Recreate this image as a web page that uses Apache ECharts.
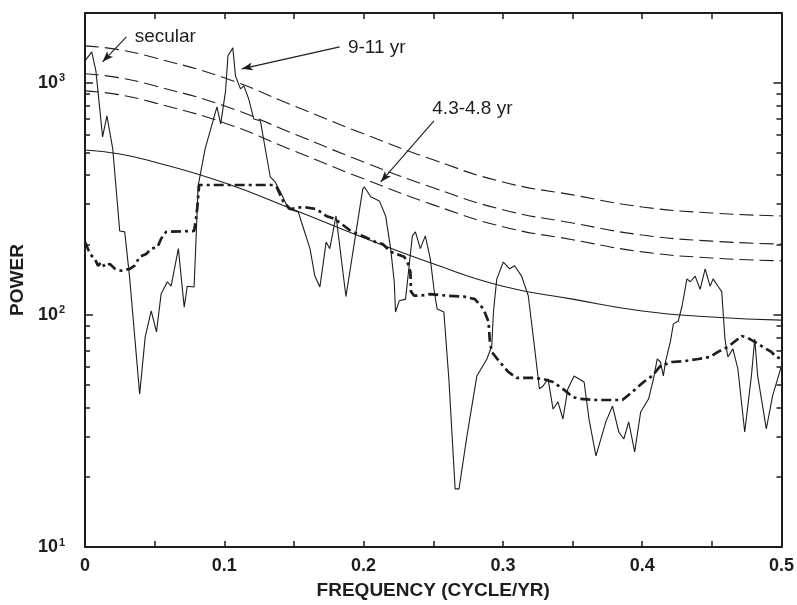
<!DOCTYPE html>
<html>
<head>
<meta charset="utf-8">
<script src="https://cdn.jsdelivr.net/npm/echarts@6/dist/echarts.min.js"></script>
<style>
  html, body { margin: 0; padding: 0; background: #fff; }
  #chart { width: 797px; height: 605px; }
</style>
</head>
<body>
<div id="chart"></div>
<script>
// MTM power spectrum (thin solid line)
const specFreq = [
  0, 0.0048, 0.0078, 0.0126, 0.0157, 0.0199, 0.0249, 0.0285, 0.0321, 0.0392,
  0.0432, 0.0475, 0.0513, 0.0546, 0.0591, 0.0618, 0.0670, 0.0712, 0.0734, 0.0783,
  0.0796, 0.0812, 0.0862, 0.0947, 0.0974, 0.1009, 0.1026, 0.1061, 0.1080, 0.1116,
  0.1140, 0.1175, 0.1211, 0.1259, 0.1303, 0.1330, 0.1365, 0.1410, 0.1460, 0.1531,
  0.1553, 0.1615, 0.1650, 0.1686, 0.1731, 0.1757, 0.1802, 0.1873, 0.1994, 0.2006,
  0.2051, 0.2113, 0.2158, 0.2194, 0.2220, 0.2229, 0.2256, 0.2301, 0.2350, 0.2372,
  0.2407, 0.2443, 0.2479, 0.2505, 0.2528, 0.2576, 0.2612, 0.2657, 0.2685, 0.2742,
  0.2813, 0.2885, 0.2920, 0.2932, 0.2956, 0.3003, 0.3048, 0.3084, 0.3134, 0.3182,
  0.3226, 0.3262, 0.3288, 0.3324, 0.3360, 0.3395, 0.3431, 0.3466, 0.3511, 0.3547,
  0.3583, 0.3618, 0.3668, 0.3739, 0.3787, 0.3832, 0.3868, 0.3903, 0.3946, 0.3989,
  0.4046, 0.4081, 0.4108, 0.4131, 0.4152, 0.4167, 0.4202, 0.4224, 0.4259, 0.4286,
  0.4321, 0.4345, 0.4380, 0.4416, 0.4452, 0.4487, 0.4509, 0.4544, 0.4571, 0.4594,
  0.4615, 0.4651, 0.4687, 0.4736, 0.4784, 0.4808, 0.4829, 0.4891, 0.4936, 0.5
];
const specPower = [
  1244, 1360, 1126, 585, 721, 519, 230, 228, 143, 45.6,
  80.4, 104, 84.5, 123, 139, 133, 193, 108, 133, 132,
  206, 360, 519, 788, 666, 924, 1308, 1415, 1072, 942,
  971, 853, 699, 686, 484, 393, 374, 332, 286, 278,
  252, 193, 147, 132, 206, 193, 267, 120, 349, 356,
  323, 310, 267, 193, 139, 103, 115, 117, 219, 228,
  193, 219, 174, 129, 106, 103, 53, 17.8, 17.8, 30.1,
  54.6, 64.6, 73.5, 103, 143, 169, 158, 163, 147, 121,
  73.5, 48, 49.4, 53, 39.3, 42.2, 35.6, 48, 54.6, 53,
  51.4, 35.6, 24.7, 34.6, 40.5, 31.3, 29.2, 34.6, 25.7, 38.2,
  43.5, 53, 64.6, 62.7, 54.6, 62.7, 76.5, 91.5, 94.2, 109,
  143, 139, 147, 129, 158, 133, 143, 133, 126, 78.8,
  65.9, 71.4, 58.5, 31.3, 54.6, 78.8, 54.6, 32.3, 44.8, 60.3
];

// Median-smoothed background (thick dot-dashed line)
const bgFreq = [
  0, 0.0036, 0.0071, 0.0093, 0.0119, 0.0142, 0.0178, 0.0214, 0.0261, 0.0321,
  0.0356, 0.0392, 0.0439, 0.0475, 0.0520, 0.0546, 0.0582, 0.0783, 0.0796, 0.0805,
  0.0819, 0.1353, 0.1375, 0.1425, 0.1472, 0.1567, 0.1660, 0.1731, 0.1793, 0.1909,
  0.2006, 0.2087, 0.2137, 0.2194, 0.2291, 0.2315, 0.2336, 0.2340, 0.2363, 0.2407,
  0.2479, 0.2600, 0.2719, 0.2799, 0.2861, 0.2897, 0.2906, 0.2920, 0.2977, 0.3039,
  0.3098, 0.3217, 0.3288, 0.3360, 0.3431, 0.3502, 0.3547, 0.3668, 0.3858, 0.3929,
  0.4010, 0.4072, 0.4131, 0.4214, 0.4309, 0.4402, 0.4487, 0.4544, 0.4615, 0.4687,
  0.4713, 0.4758, 0.4808, 0.4855, 0.4927, 0.4962, 0.5
];
const bgPower = [
  206, 183, 174, 163, 169, 161, 166, 158, 155, 158,
  163, 178, 183, 193, 196, 213, 228, 230, 259, 286,
  363, 363, 356, 307, 286, 292, 286, 267, 259, 230,
  217, 206, 202, 187, 178, 169, 153, 126, 121, 121,
  123, 121, 120, 117, 106, 93.3, 77.3, 69.3, 62.7, 56.8,
  53.5, 53.5, 53, 51.4, 48, 44.3, 43.5, 43.0, 43.0, 46.6,
  51.4, 54.6, 60.3, 62.7, 63.3, 64.6, 65.9, 69.3, 72.8, 78.8,
  81.2, 79.6, 76.5, 73.5, 69.3, 65.9, 64.6
];

// AR(1) red-noise fit and its confidence limits
const fitFreq  = [0, 0.025, 0.05, 0.1, 0.15, 0.2, 0.25, 0.3, 0.35, 0.4, 0.45, 0.5];
const fitPower = [514, 494, 456, 371, 284, 215, 166, 133, 117, 104, 98, 95];
const conf999  = [1444, 1388, 1282, 1051, 796, 603, 466, 374, 329, 292, 275, 267];
const conf99   = [1094, 1051, 971, 796, 603, 456, 353, 284, 249, 221, 208, 202];
const conf95   = [924, 888, 820, 672, 509, 386, 298, 240, 211, 187, 176, 171];

// Axis ticks
const yMajorTicks = [10, 100, 1000];
const yMinorTicks = [20, 30, 40, 50, 60, 70, 80, 90, 200, 300, 400, 500, 600, 700, 800, 900, 2000];

// Peak annotations: label, label anchor, arrow start, arrow tip
const noteText = ['secular', '9-11 yr', '4.3-4.8 yr'];
const noteAt   = [[0.0356, 1586], [0.1887, 1422], [0.2493, 773]];
const noteFrom = [[0.0297, 1578], [0.1828, 1429], [0.2505, 686]];
const noteTo   = [[0.0126, 1232], [0.1125, 1149], [0.2123, 374]];

const zip = (xs, ys) => xs.map((x, i) => [x, ys[i]]);

const FONT = "'Liberation Sans', Arial, Helvetica, sans-serif";
const INK = '#1e1e1e';

const chart = echarts.init(document.getElementById('chart'), null, { renderer: 'canvas' });

const xBase = {
  type: 'value', min: 0, max: 0.5, interval: 0.05,
  splitLine: { show: false },
  axisLine: { show: true, lineStyle: { color: INK, width: 2 } },
  axisTick: { show: true, inside: true, length: 6, lineStyle: { color: INK, width: 1.5 } }
};
const yBase = {
  type: 'log', logBase: 10, min: 10, max: 2000,
  splitLine: { show: false },
  axisLine: { show: false }
};

chart.setOption({
  animation: false,
  backgroundColor: '#fff',
  grid: { left: 80, right: 15, top: 13, bottom: 57, containLabel: false },
  xAxis: [
    Object.assign({}, xBase, {
      position: 'bottom',
      name: 'FREQUENCY (CYCLE/YR)', nameLocation: 'middle', nameGap: 34,
      nameTextStyle: { fontFamily: FONT, fontWeight: 'bold', fontSize: 19, color: INK },
      axisLabel: {
        margin: 10, fontFamily: FONT, fontWeight: 'bold', fontSize: 18, color: INK,
        formatter: v => {
          const r = Math.round(v * 100);
          if (r % 10 !== 0) return '';
          return r === 0 ? '0' : (r / 100).toFixed(1);
        }
      }
    }),
    Object.assign({}, xBase, { position: 'top', axisLabel: { show: false } })
  ],
  yAxis: [
    Object.assign({}, yBase, {
      position: 'left',
      axisLine: { show: true, lineStyle: { color: INK, width: 2 } },
      name: 'POWER', nameLocation: 'middle', nameGap: 57, nameRotate: 90,
      nameTextStyle: { fontFamily: FONT, fontWeight: 'bold', fontSize: 19, color: INK },
      axisTick: { show: true, inside: true, length: 8, customValues: yMajorTicks,
                  lineStyle: { color: INK, width: 1.5 } },
      axisLabel: {
        margin: 20, customValues: yMajorTicks, color: INK,
        formatter: v => '{b|10}{e|' + Math.round(Math.log10(v)) + '}',
        rich: {
          b: { fontFamily: FONT, fontWeight: 'bold', fontSize: 18, color: INK },
          e: { fontFamily: FONT, fontWeight: 'bold', fontSize: 11, color: INK, padding: [0, 0, 9, 1] }
        }
      }
    }),
    Object.assign({}, yBase, {
      position: 'left',
      axisTick: { show: true, inside: true, length: 5, customValues: yMinorTicks,
                  lineStyle: { color: INK, width: 1.5 } },
      axisLabel: { show: false }
    }),
    Object.assign({}, yBase, {
      position: 'right',
      axisLine: { show: true, lineStyle: { color: INK, width: 2 } },
      axisTick: { show: true, inside: true, length: 8, customValues: yMajorTicks,
                  lineStyle: { color: INK, width: 1.5 } },
      axisLabel: { show: false }
    }),
    Object.assign({}, yBase, {
      position: 'right',
      axisTick: { show: true, inside: true, length: 5, customValues: yMinorTicks,
                  lineStyle: { color: INK, width: 1.5 } },
      axisLabel: { show: false }
    })
  ],
  series: [
    {
      name: 'conf99.9', type: 'line', smooth: true, showSymbol: false, silent: true,
      data: zip(fitFreq, conf999),
      lineStyle: { color: INK, width: 1.1, type: [14, 6] }
    },
    {
      name: 'conf99', type: 'line', smooth: true, showSymbol: false, silent: true,
      data: zip(fitFreq, conf99),
      lineStyle: { color: INK, width: 1.1, type: [14, 6] }
    },
    {
      name: 'conf95', type: 'line', smooth: true, showSymbol: false, silent: true,
      data: zip(fitFreq, conf95),
      lineStyle: { color: INK, width: 1.1, type: [14, 6] }
    },
    {
      name: 'ar1', type: 'line', smooth: true, showSymbol: false, silent: true,
      data: zip(fitFreq, fitPower),
      lineStyle: { color: INK, width: 1.1 }
    },
    {
      name: 'background', type: 'line', showSymbol: false, silent: true,
      data: zip(bgFreq, bgPower),
      lineStyle: { color: INK, width: 2.7, type: [10, 4, 3, 4] }
    },
    {
      name: 'spectrum', type: 'line', showSymbol: false, silent: true,
      data: zip(specFreq, specPower),
      lineStyle: { color: INK, width: 1.1 },
      markLine: {
        silent: true, animation: false,
        symbol: ['none', 'arrow'], symbolSize: [6, 11],
        label: { show: false },
        lineStyle: { color: INK, width: 1.1, type: 'solid' },
        itemStyle: { color: INK },
        data: noteFrom.map((p, i) => [{ coord: p }, { coord: noteTo[i] }])
      },
      markPoint: {
        silent: true, animation: false,
        symbol: 'circle', symbolSize: 0,
        label: {
          show: true, position: 'right', distance: 0,
          fontFamily: FONT, fontSize: 19, color: INK
        },
        data: noteAt.map((p, i) => ({ coord: p, value: noteText[i], label: { formatter: noteText[i] } }))
      }
    }
  ]
});
</script>
</body>
</html>
